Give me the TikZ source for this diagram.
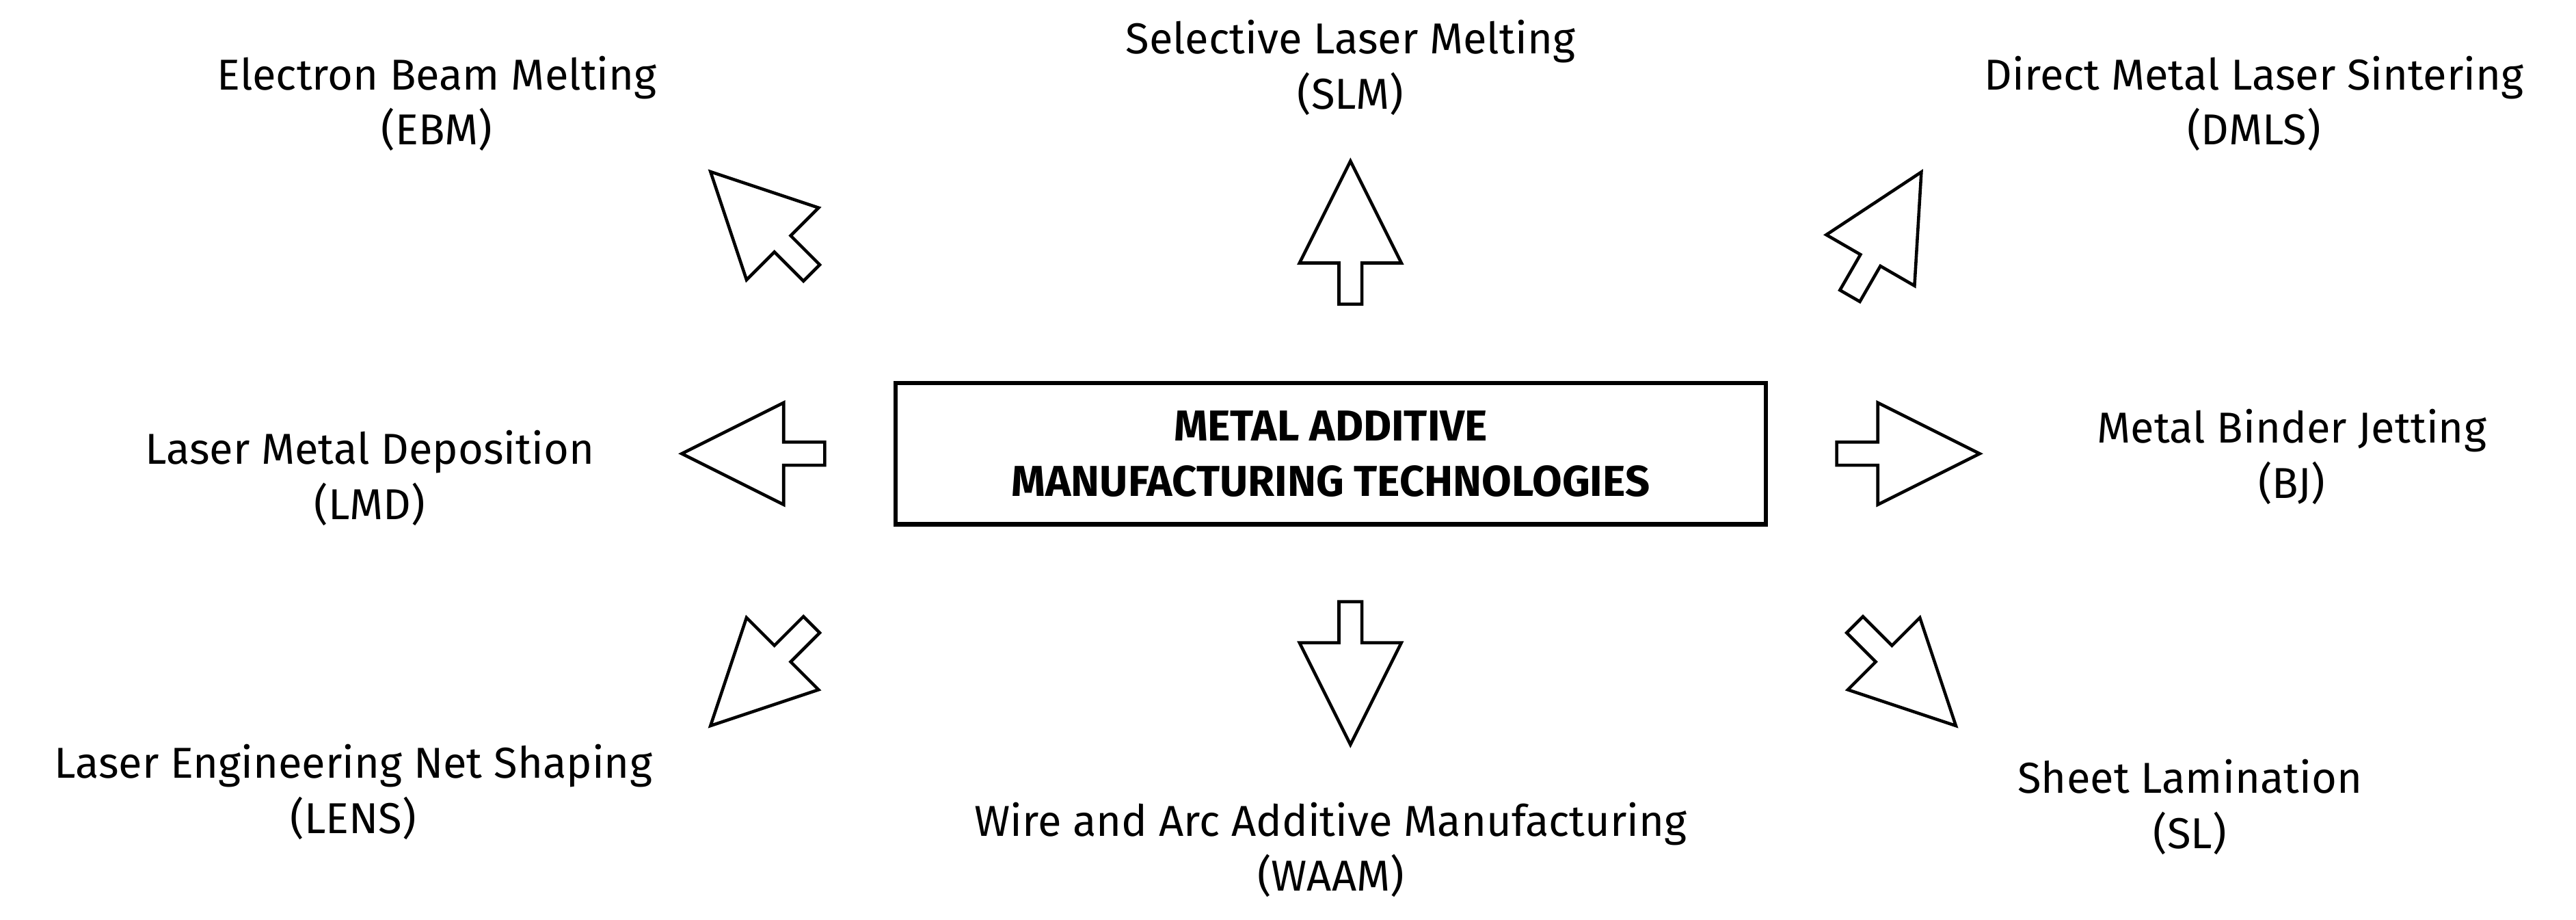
\documentclass[tikz,border=0pt]{standalone}
\usepackage{fontspec}
\setmainfont{Fira Sans}
\begin{document}
\begin{tikzpicture}[x=0.02403cm,y=-0.02403cm,
  lbl/.style={align=center,font=\fontsize{18}{23}\selectfont},
  barrow/.style={draw=black,line width=1.3pt,fill=white,line join=miter}]
\useasboundingbox (0,0) rectangle (1568,559.7);
\newcommand{\blockarrow}[3]{%
  \draw[barrow,shift={(#1,#2)},rotate=#3] (0,7) -- (25,7) -- (25,31) -- (87,0) -- (25,-31) -- (25,-7) -- (0,-7) -- cycle;}
% box
\node[draw,line width=1.8pt,minimum width=530*0.02403cm,minimum height=86*0.02403cm,
  align=center,font=\fontsize{18}{23}\selectfont\bfseries] (c) at (810,276)
  {METAL ADDITIVE\\MANUFACTURING TECHNOLOGIES};
% arrows (tail point, angle)
\blockarrow{822}{185}{90}
\blockarrow{822}{366}{-90}
\blockarrow{502}{276}{180}
\blockarrow{1118}{276}{0}
\blockarrow{494}{166}{135}
\blockarrow{1126}{180}{60}
\blockarrow{494}{380}{-135}
\blockarrow{1129}{380}{-45}
% labels
\node[lbl] (ebm) at (266,63) {Electron Beam Melting\\(EBM)};
\node[lbl] (slm) at (822,41) {Selective Laser Melting\\(SLM)};
\node[lbl] (dmls) at (1372,63) {Direct Metal Laser Sintering\\(DMLS)};
\node[lbl] (lmd) at (225,291) {Laser Metal Deposition\\(LMD)};
\node[lbl] (bj) at (1395,278) {Metal Binder Jetting\\(BJ)};
\node[lbl] (lens) at (215,482) {Laser Engineering Net Shaping\\(LENS)};
\node[lbl] (waam) at (810,517) {Wire and Arc Additive Manufacturing\\(WAAM)};
\node[lbl] (sl) at (1333,491) {Sheet Lamination\\(SL)};
\end{tikzpicture}
\end{document}
